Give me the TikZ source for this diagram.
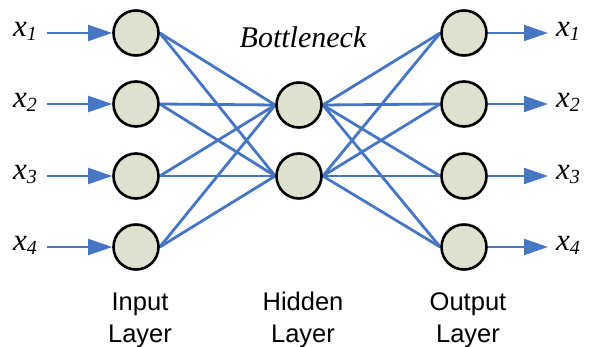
\documentclass[tikz,border=0pt]{standalone}
\usepackage{fontspec}
\setmainfont{Liberation Serif}
\newfontfamily\arialfont{Liberation Sans}
\usetikzlibrary{arrows.meta,backgrounds}
\definecolor{edgeblue}{RGB}{70,118,194}
\definecolor{nodefill}{RGB}{221,225,205}
\tikzset{
 neuron/.style={circle, draw=black, line width=2.6pt, fill=nodefill, minimum size=45pt, inner sep=0pt},
 link/.style={draw=edgeblue, line width=2.8pt},
 flow/.style={draw=edgeblue, line width=2pt, -{Triangle[length=24pt,width=16pt]}},
 xlab/.style={font=\fontsize{31}{31}\selectfont\itshape, inner sep=0pt},
 layerlab/.style={font=\arialfont\fontsize{25.5}{32}\selectfont, align=center, inner sep=0pt, anchor=base},
}
\newcommand{\xsub}[1]{x\raisebox{-4pt}{\fontsize{20}{20}\selectfont #1}}
\begin{document}
\begin{tikzpicture}[x=1pt,y=-1pt]
\useasboundingbox (0,0) rectangle (591,347);
\foreach \i/\y in {1/33,2/104,3/176,4/247}{
  \node[neuron] (i\i) at (136,\y) {};
  \node[neuron] (o\i) at (464,\y) {};
}
\node[neuron] (h1) at (299,105) {};
\node[neuron] (h2) at (299,176) {};
\begin{scope}[on background layer]
\foreach \i in {1,...,4}{
  \foreach \j in {1,2}{
    \draw[link] (i\i.east) -- (h\j.west);
    \draw[link] (h\j.east) -- (o\i.west);
  }
}
\end{scope}
\foreach \i/\y in {1/33,2/104,3/176,4/247}{
  \coordinate (a\i) at (47,\y);
  \draw[flow] (a\i) -- (i\i.west);
  \node[xlab, anchor=base west] (lx\i) at (13,{\y+4}) {\xsub{\i}};
  \coordinate (b\i) at (548,\y);
  \draw[flow] (o\i.east) -- (b\i);
  \node[xlab, anchor=base west] (rx\i) at (556,{\y+4}) {\xsub{\i}};
}
\node[font=\fontsize{30}{30}\selectfont\itshape, anchor=base, inner sep=0pt] (bn) at (303,48) {Bottleneck};
\node[layerlab] (li) at (140,342) {Input\\Layer};
\node[layerlab] (lh) at (303,342) {Hidden\\Layer};
\node[layerlab] (lo) at (468,342) {Output\\Layer};
\end{tikzpicture}
\end{document}
